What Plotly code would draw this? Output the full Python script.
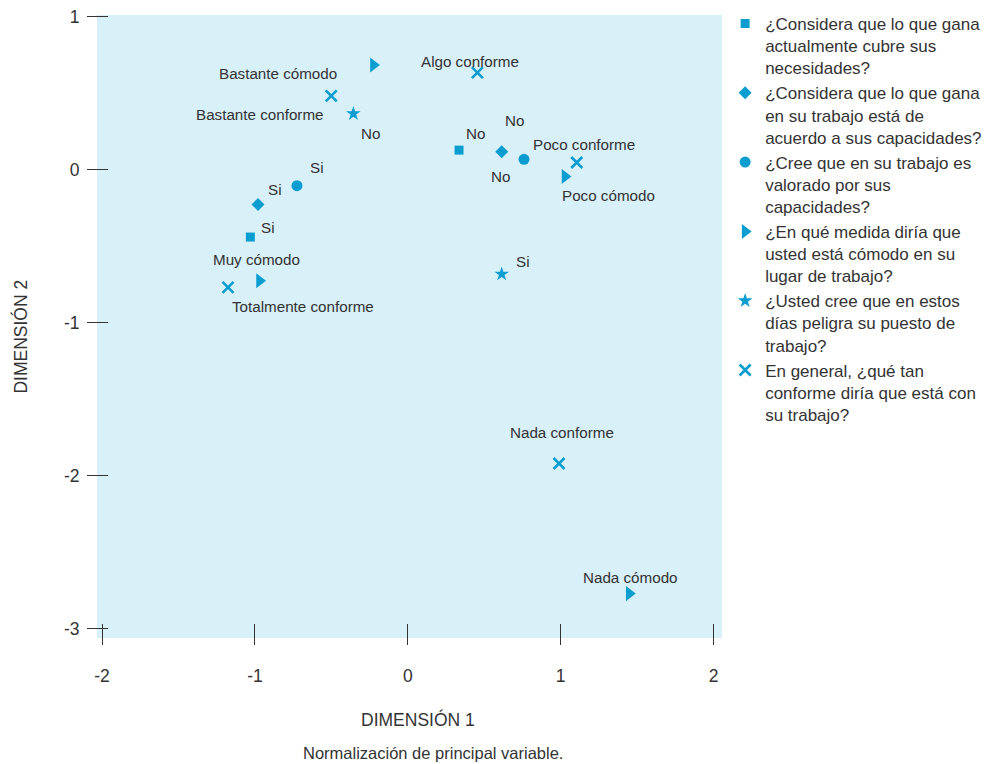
import plotly.graph_objects as go

# ---- data ----
series_names = [
    "¿Considera que lo que gana<br>actualmente cubre sus<br>necesidades?",
    "¿Considera que lo que gana<br>en su trabajo está de<br>acuerdo a sus capacidades?",
    "¿Cree que en su trabajo es<br>valorado por sus<br>capacidades?",
    "¿En qué medida diría que<br>usted está cómodo en su<br>lugar de trabajo?",
    "¿Usted cree que en estos<br>días peligra su puesto de<br>trabajo?",
    "En general, ¿qué tan<br>conforme diría que está con<br>su trabajo?",
]

q1_labels = ["Si", "No"]
q1_x = [-1.03, 0.335]
q1_y = [-0.44, 0.128]

q2_labels = ["Si", "No"]
q2_x = [-0.98, 0.614]
q2_y = [-0.227, 0.117]

q3_labels = ["Si", "No"]
q3_x = [-0.725, 0.76]
q3_y = [-0.104, 0.068]

q4_labels = ["Bastante cómodo", "Muy cómodo", "Poco cómodo", "Nada cómodo"]
q4_x = [-0.225, -0.97, 1.028, 1.448]
q4_y = [0.685, -0.725, -0.044, -2.77]

q5_labels = ["No", "Si"]
q5_x = [-0.356, 0.614]
q5_y = [0.366, -0.682]

q6_labels = ["Bastante conforme", "Algo conforme", "Poco conforme",
             "Totalmente conforme", "Nada conforme"]
q6_x = [-0.501, 0.455, 1.105, -1.176, 0.989]
q6_y = [0.483, 0.634, 0.047, -0.769, -1.92]

x_ticks = [-2, -1, 0, 1, 2]
x_tick_text = ["-2", "-1", "0", "1", "2"]
y_ticks = [1, 0, -1, -2, -3]
y_tick_text = ["1", "0", "-1", "-2", "-3"]

# ---- styling ----
MARK = "#0b9dd0"
BG = "#d8f0f8"
TXT = "#333333"
FONT = "Liberation Sans, Arial, sans-serif"

# label pixel offsets (xshift, yshift) per point
q1_off = [(18, 10), (16, 17)]
q2_off = [(17, 15), (13, 31)]
q3_off = [(20, 18), (-24, -17)]
q4_off = [(-95, -9), (-3, 21), (44, -19), (1, 16)]
q5_off = [(17, -20), (21, 13)]
q6_off = [(-72, -19), (-7, 11), (7, 18), (75, -19), (3, 31)]

groups = [
    (q1_x, q1_y, q1_labels, q1_off, "square", 9),
    (q2_x, q2_y, q2_labels, q2_off, "diamond", 10),
    (q3_x, q3_y, q3_labels, q3_off, "circle", 11),
    (q4_x, q4_y, q4_labels, q4_off, "triangle-right", 13),
    (q5_x, q5_y, q5_labels, q5_off, "star", 11),
    (q6_x, q6_y, q6_labels, q6_off, "x-thin", 11),
]

fig = go.Figure()
annotations = []
for name, (xs, ys, labs, offs, sym, sz) in zip(series_names, groups):
    marker = dict(symbol=sym, size=sz, color=MARK, line=dict(width=0))
    if sym == "x-thin":
        marker = dict(symbol=sym, size=sz, color=MARK, line=dict(width=2.6, color=MARK))
    fig.add_trace(go.Scatter(x=xs, y=ys, mode="markers", name=name, marker=marker,
                             hoverinfo="skip"))
    for x, y, lab, (dx, dy) in zip(xs, ys, labs, offs):
        annotations.append(dict(x=x, y=y, xref="x", yref="y", text=lab, showarrow=False,
                                xshift=dx, yshift=dy,
                                font=dict(family=FONT, size=15.2, color=TXT)))

# axis titles and note
annotations.append(dict(x=0.5136, y=-0.1509, xref="paper", yref="paper", text="DIMENSIÓN 1",
                        showarrow=False, font=dict(family=FONT, size=17.5, color=TXT)))
annotations.append(dict(x=-0.1424, y=0.483, xref="paper", yref="paper", text="DIMENSIÓN 2",
                        showarrow=False, textangle=-90, font=dict(family=FONT, size=17.5, color=TXT)))
annotations.append(dict(x=0.5368, y=-0.2023, xref="paper", yref="paper",
                        text="Normalización de principal variable.",
                        showarrow=False, font=dict(family=FONT, size=16.5, color=TXT)))

fig.update_layout(
    width=984, height=756,
    margin=dict(l=89, r=270, t=7, b=126, autoexpand=False),
    paper_bgcolor="white",
    plot_bgcolor=BG,
    font=dict(family=FONT, color=TXT),
    showlegend=True,
    legend=dict(x=1.005, y=1.0145, xanchor="left", yanchor="top", valign="top",
                font=dict(family=FONT, size=17, color=TXT), bgcolor="rgba(0,0,0,0)",
                tracegroupgap=0, maxheight=740),
    annotations=annotations,
    xaxis=dict(range=[-2.033, 2.055], tickvals=x_ticks, ticktext=x_tick_text,
               ticks="outside", ticklen=21, automargin=False, ticklabeloverflow="allow",
               tickcolor="#333", tickwidth=1, showgrid=False, zeroline=False, showline=False,
               anchor="free", position=0.0246, ticklabelstandoff=16,
               tickfont=dict(family=FONT, size=17.5, color=TXT)),
    yaxis=dict(range=[-3.06, 1.011], tickvals=y_ticks, ticktext=y_tick_text,
               ticks="outside", ticklen=21, automargin=False, ticklabeloverflow="allow",
               tickcolor="#333", tickwidth=1, showgrid=False, zeroline=False, showline=False,
               anchor="free", position=0.0176, ticklabelstandoff=4,
               tickfont=dict(family=FONT, size=17.5, color=TXT)),
)

fig.write_html("out.html")
